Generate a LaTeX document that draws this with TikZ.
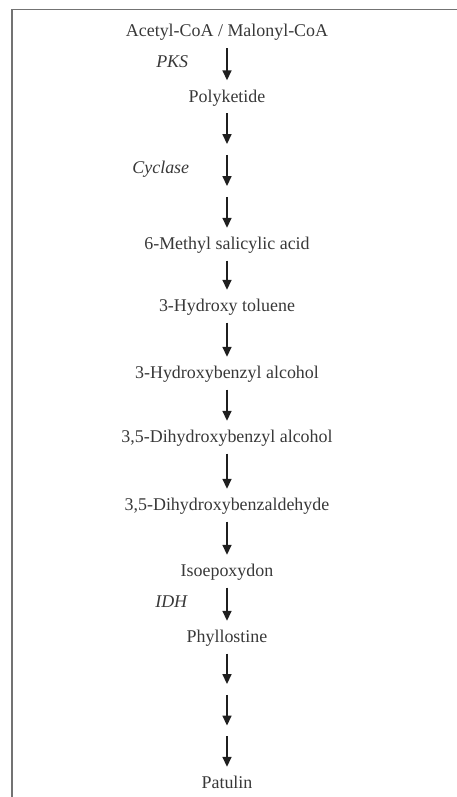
\documentclass[tikz,border=0pt]{standalone}
\usepackage{fontspec}
\setmainfont{Liberation Serif}
\usetikzlibrary{arrows.meta}

\begin{document}
\begin{tikzpicture}[x=1bp, y=-1bp, >={Triangle[length=10bp, width=9bp]},
    every node/.style={font=\fontsize{18}{21}\selectfont, text=black!78},
    compound/.style={anchor=base, inner sep=0pt, text height=21.5bp, text depth=11bp},
    gap/.style={inner sep=0pt, minimum height=10.5bp, minimum width=0pt},
    enzyme/.style={font=\fontsize{18}{21}\selectfont\itshape, inner sep=0pt, text height=6bp, text depth=0pt},
    reaction/.style={->, line width=1.7bp, black!88}]
                \useasboundingbox (0,0) rectangle (457,797);
                \draw[black!55, line width=1.5bp] (12,797) -- (12,9.5) -- (457,9.5);

                \node[compound] (acetyl) at (227,37) {Acetyl-CoA / Malonyl-CoA};
                \node[compound] (poly) at (227,102) {Polyketide};
                \node[gap] (g1) at (227,149.5) {};
                \node[gap] (g2) at (227,191.5) {};
                \node[compound] (methyl) at (227,249.5) {6-Methyl salicylic acid};
                \node[compound] (toluene) at (227,311.5) {3-Hydroxy toluene};
                \node[compound] (hbalc) at (227,378.5) {3-Hydroxybenzyl alcohol};
                \node[compound] (dhbalc) at (227,442.5) {3,5-Dihydroxybenzyl alcohol};
                \node[compound] (dhbald) at (227,510.5) {3,5-Dihydroxybenzaldehyde};
                \node[compound] (isoep) at (227,576.5) {Isoepoxydon};
                \node[compound] (phyllo) at (227,642.5) {Phyllostine};
                \node[gap] (g3) at (227,689.5) {};
                \node[gap] (g4) at (227,731) {};
                \node[compound] (patulin) at (227,788.5) {Patulin};

                \draw[reaction] (acetyl) -- node[enzyme, left=38bp] {PKS} (poly);
                \draw[reaction] (poly) -- (g1);
                \draw[reaction] (g1) -- node[enzyme, left=37bp] {Cyclase} (g2);
                \draw[reaction] (g2) -- (methyl);
                \draw[reaction] (methyl) -- (toluene);
                \draw[reaction] (toluene) -- (hbalc);
                \draw[reaction] (hbalc) -- (dhbalc);
                \draw[reaction] (dhbalc) -- (dhbald);
                \draw[reaction] (dhbald) -- (isoep);
                \draw[reaction] (isoep) -- node[enzyme, left=39bp] {IDH} (phyllo);
                \draw[reaction] (phyllo) -- (g3);
                \draw[reaction] (g3) -- (g4);
                \draw[reaction] (g4) -- (patulin);
            \end{tikzpicture}
\end{document}
